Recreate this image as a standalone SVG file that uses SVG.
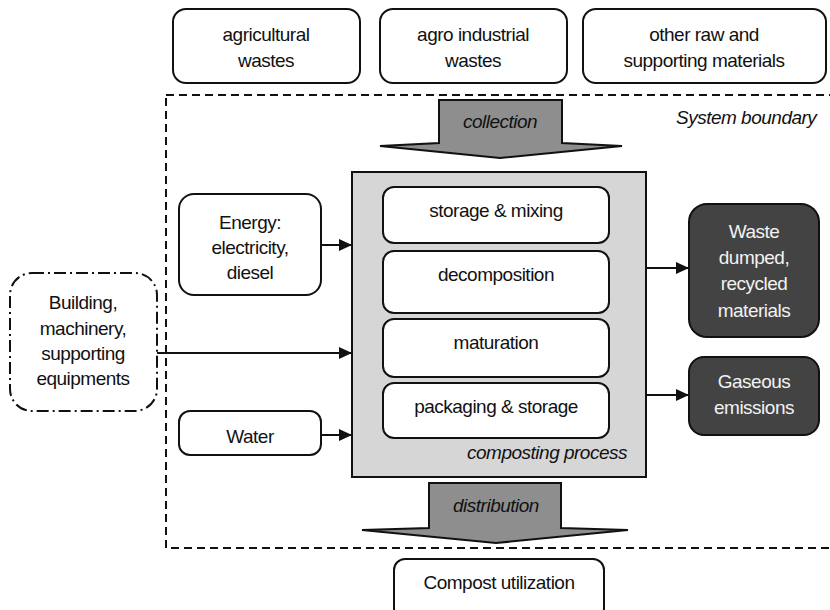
<svg xmlns="http://www.w3.org/2000/svg" width="830" height="610" viewBox="0 0 830 610">
<style>
.t{font-family:"Liberation Sans",Arial,sans-serif;font-size:19px;letter-spacing:-0.5px;text-anchor:middle;fill:#111}
.i{font-family:"Liberation Sans",Arial,sans-serif;font-size:19px;letter-spacing:-0.5px;font-style:italic;fill:#111}
.w{fill:#f2f2f2}
.box{fill:#fff;stroke:#111;stroke-width:2}
.dark{fill:#434343;stroke:#111;stroke-width:2}
.ln{stroke:#111;stroke-width:2;fill:none}
.big{fill:#8e8e8e;stroke:#111;stroke-width:2;stroke-linejoin:miter}
</style>
<defs>
<marker id="ah" markerUnits="userSpaceOnUse" markerWidth="14" markerHeight="14" refX="13" refY="7" orient="auto">
<path d="M0,1 L13,7 L0,13 Z" fill="#111"/>
</marker>
</defs>
<rect width="830" height="610" fill="#fff"/>

<g id="boundary">
<rect x="166" y="95" width="690" height="453" fill="none" stroke="#111" stroke-width="2" stroke-dasharray="8,5"/>
<text class="i" x="676" y="124">System boundary</text>
</g>

<g id="agricultural">
<rect class="box" x="173" y="9" width="187" height="74" rx="13"/>
<text class="t" x="266" y="41">agricultural</text>
<text class="t" x="266" y="67">wastes</text>
</g>
<g id="agroindustrial">
<rect class="box" x="380" y="9" width="187" height="74" rx="13"/>
<text class="t" x="473" y="41">agro industrial</text>
<text class="t" x="473" y="67">wastes</text>
</g>
<g id="otherraw">
<rect class="box" x="583" y="9" width="243" height="74" rx="13"/>
<text class="t" x="704" y="41">other raw and</text>
<text class="t" x="704" y="67">supporting materials</text>
</g>

<g id="collection">
<path class="big" d="M439,100 H562 V143 L622,146 L500,158 L380,146 L439,143 Z"/>
<text class="i" x="500" y="128" text-anchor="middle">collection</text>
</g>

<g id="process">
<rect x="352" y="172" width="294" height="305" fill="#d6d6d6" stroke="#111" stroke-width="2"/>
<text class="i" x="627" y="459" text-anchor="end">composting process</text>
</g>
<g id="storage">
<rect class="box" x="383" y="187" width="226" height="56" rx="11"/>
<text class="t" x="496" y="217">storage &amp; mixing</text>
</g>
<g id="decomposition">
<rect class="box" x="383" y="251" width="226" height="62" rx="11"/>
<text class="t" x="496" y="281">decomposition</text>
</g>
<g id="maturation">
<rect class="box" x="383" y="319" width="226" height="58" rx="11"/>
<text class="t" x="496" y="349">maturation</text>
</g>
<g id="packaging">
<rect class="box" x="383" y="383" width="226" height="55" rx="11"/>
<text class="t" x="496" y="413">packaging &amp; storage</text>
</g>

<g id="energy">
<rect class="box" x="179" y="194" width="142" height="101" rx="15"/>
<text class="t" x="250" y="229">Energy:</text>
<text class="t" x="250" y="254">electricity,</text>
<text class="t" x="250" y="279">diesel</text>
</g>
<g id="building">
<rect x="10" y="273" width="147" height="138" rx="22" fill="#fff" stroke="#111" stroke-width="2" stroke-dasharray="12,4,2,4"/>
<text class="t" x="83" y="309">Building,</text>
<text class="t" x="83" y="335">machinery,</text>
<text class="t" x="83" y="360">supporting</text>
<text class="t" x="83" y="385">equipments</text>
</g>
<g id="water">
<rect class="box" x="179" y="411" width="142" height="44" rx="11"/>
<text class="t" x="250" y="443">Water</text>
</g>

<g id="waste">
<rect class="dark" x="689" y="204" width="130" height="133" rx="18"/>
<text class="t w" x="754" y="238">Waste</text>
<text class="t w" x="754" y="264">dumped,</text>
<text class="t w" x="754" y="290">recycled</text>
<text class="t w" x="754" y="317">materials</text>
</g>
<g id="gaseous">
<rect class="dark" x="689" y="357" width="130" height="78" rx="15"/>
<text class="t w" x="754" y="388">Gaseous</text>
<text class="t w" x="754" y="414">emissions</text>
</g>

<g id="distribution">
<path class="big" d="M429,483 H561 V528 L628,530 L496,543 L362,530 L429,528 Z"/>
<text class="i" x="496" y="512" text-anchor="middle">distribution</text>
</g>

<g id="compost">
<rect class="box" x="394" y="559" width="210" height="60" rx="11"/>
<text class="t" x="499" y="589">Compost utilization</text>
</g>

<g id="connectors">
<line class="ln" x1="321" y1="245" x2="352" y2="245" marker-end="url(#ah)"/>
<line class="ln" x1="157" y1="353" x2="352" y2="353" marker-end="url(#ah)"/>
<line class="ln" x1="321" y1="435" x2="352" y2="435" marker-end="url(#ah)"/>
<line class="ln" x1="646" y1="268" x2="689" y2="268" marker-end="url(#ah)"/>
<line class="ln" x1="646" y1="395" x2="689" y2="395" marker-end="url(#ah)"/>
</g>
</svg>
